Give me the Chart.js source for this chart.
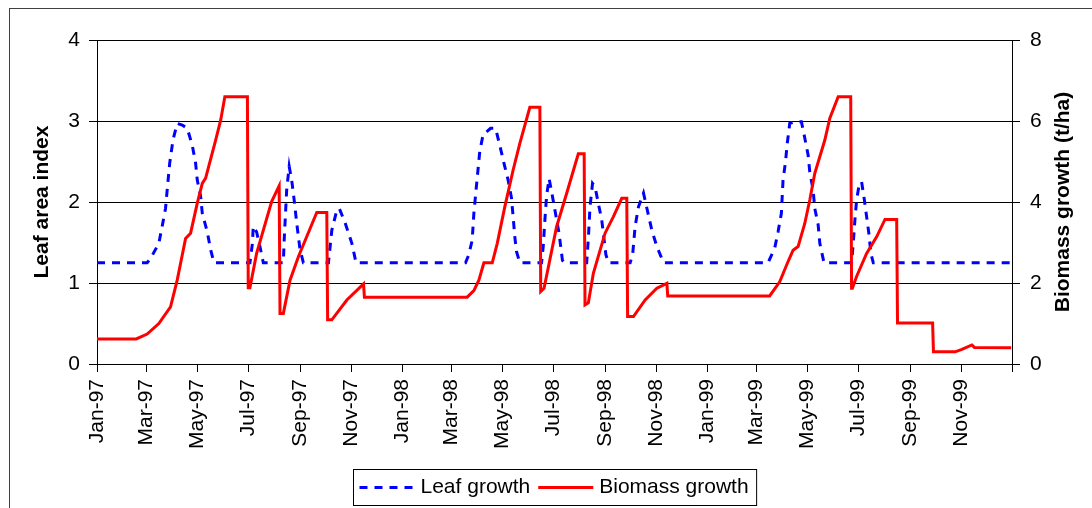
<!DOCTYPE html>
<html>
<head>
<meta charset="utf-8">
<script src="https://cdn.jsdelivr.net/npm/chart.js@4/dist/chart.umd.min.js"></script>
<style>
  html, body { margin: 0; padding: 0; background: #fff; }
  #wrap { width: 1092px; height: 508px; position: relative; }
</style>
</head>
<body>
<div id="wrap"><canvas id="chart"></canvas></div>
<script>
// x tick positions (month starts) and their labels
const tickDates = ['1997-01-01', '1997-03-01', '1997-05-01', '1997-07-01', '1997-09-01', '1997-11-01',
  '1998-01-01', '1998-03-01', '1998-05-01', '1998-07-01', '1998-09-01', '1998-11-01',
  '1999-01-01', '1999-03-01', '1999-05-01', '1999-07-01', '1999-09-01', '1999-11-01', '2000-01-01'];
const tickLabels = ['Jan-97', 'Mar-97', 'May-97', 'Jul-97', 'Sep-97', 'Nov-97',
  'Jan-98', 'Mar-98', 'May-98', 'Jul-98', 'Sep-98', 'Nov-98',
  'Jan-99', 'Mar-99', 'May-99', 'Jul-99', 'Sep-99', 'Nov-99', ''];

// Leaf area index (left axis)
const leafDates = ['1997-01-01', '1997-03-02', '1997-03-06', '1997-03-16', '1997-03-20', '1997-03-24', '1997-03-26',
  '1997-03-29', '1997-04-02', '1997-04-07', '1997-04-13', '1997-04-19', '1997-04-25', '1997-04-29', '1997-05-01',
  '1997-05-05', '1997-05-07', '1997-05-13', '1997-05-17', '1997-05-21',
  '1997-07-03', '1997-07-06', '1997-07-07', '1997-07-11', '1997-07-15', '1997-07-19',
  '1997-08-12', '1997-08-13', '1997-08-16', '1997-08-19', '1997-08-22', '1997-08-25', '1997-08-28', '1997-09-01', '1997-09-05',
  '1997-10-05', '1997-10-09', '1997-10-15', '1997-10-18', '1997-10-25', '1997-11-02', '1997-11-07',
  '1998-03-18', '1998-03-22', '1998-03-26', '1998-03-28', '1998-03-31', '1998-04-04', '1998-04-08', '1998-04-17',
  '1998-04-23', '1998-04-28', '1998-05-03', '1998-05-08', '1998-05-12', '1998-05-14', '1998-05-16', '1998-05-18', '1998-05-22',
  '1998-06-17', '1998-06-19', '1998-06-21', '1998-06-23', '1998-06-26', '1998-06-29', '1998-07-03', '1998-07-08', '1998-07-12', '1998-07-15',
  '1998-08-10', '1998-08-12', '1998-08-14', '1998-08-17', '1998-08-20', '1998-08-24', '1998-08-28', '1998-09-02', '1998-09-05',
  '1998-10-01', '1998-10-04', '1998-10-07', '1998-10-11', '1998-10-17', '1998-10-22', '1998-10-27', '1998-11-02', '1998-11-10',
  '1999-03-15', '1999-03-23', '1999-03-27', '1999-03-31', '1999-04-01', '1999-04-02', '1999-04-05', '1999-04-07', '1999-04-10',
  '1999-04-16', '1999-04-24', '1999-04-28', '1999-05-02', '1999-05-04', '1999-05-08', '1999-05-10', '1999-05-14', '1999-05-16', '1999-05-21',
  '1999-06-23', '1999-06-25', '1999-06-27', '1999-06-29', '1999-07-02', '1999-07-05', '1999-07-08', '1999-07-11', '1999-07-14', '1999-07-16', '1999-07-19',
  '1999-12-31'];
const leafValues = [1.25, 1.25, 1.30, 1.49, 1.70, 1.92, 2.15,
  2.48, 2.77, 2.97, 2.95, 2.91, 2.70, 2.48, 2.27,
  2.07, 1.86, 1.63, 1.41, 1.25,
  1.25, 1.49, 1.70, 1.63, 1.45, 1.25,
  1.25, 1.53, 2.15, 2.44, 2.27, 2.02, 1.74, 1.41, 1.25,
  1.25, 1.65, 1.90, 1.92, 1.74, 1.49, 1.25,
  1.25, 1.35, 1.53, 1.86, 2.19, 2.62, 2.83, 2.91,
  2.91, 2.70, 2.48, 2.27, 2.05, 1.82, 1.57, 1.39, 1.25,
  1.25, 1.45, 1.78, 2.07, 2.29, 2.13, 1.90, 1.61, 1.28, 1.25,
  1.25, 1.55, 1.94, 2.23, 2.19, 1.98, 1.78, 1.35, 1.25,
  1.25, 1.35, 1.70, 1.94, 2.11, 1.88, 1.65, 1.45, 1.25,
  1.25, 1.43, 1.63, 1.86, 2.07, 2.27, 2.50, 2.72, 2.97,
  2.99, 2.99, 2.79, 2.58, 2.37, 2.15, 1.92, 1.72, 1.49, 1.25,
  1.25, 1.49, 1.78, 2.02, 2.21, 2.25, 2.05, 1.82, 1.59, 1.37, 1.25,
  1.25];

// Biomass growth, t/ha (right axis)
const biomassDates = ['1997-01-01', '1997-02-17', '1997-03-02', '1997-03-16', '1997-03-30', '1997-04-07', '1997-04-17',
  '1997-04-23', '1997-05-01', '1997-05-07', '1997-05-11', '1997-05-23', '1997-05-29', '1997-06-03', '1997-06-30',
  '1997-07-01', '1997-07-03', '1997-07-11', '1997-07-29', '1997-08-07',
  '1997-08-08', '1997-08-12', '1997-08-20', '1997-08-30', '1997-09-21', '1997-10-03',
  '1997-10-04', '1997-10-09', '1997-10-27', '1997-11-16', '1997-11-17',
  '1998-03-20', '1998-03-28', '1998-04-03', '1998-04-09', '1998-04-19', '1998-04-25', '1998-05-04', '1998-05-14',
  '1998-05-22', '1998-06-03', '1998-06-15',
  '1998-06-16', '1998-06-20', '1998-07-05', '1998-07-17', '1998-07-31', '1998-08-07',
  '1998-08-08', '1998-08-12', '1998-08-18', '1998-09-01', '1998-09-11', '1998-09-21', '1998-09-27',
  '1998-09-28', '1998-10-05', '1998-10-19', '1998-11-02', '1998-11-14', '1998-11-15',
  '1999-03-17', '1999-03-29', '1999-04-08', '1999-04-14', '1999-04-20', '1999-04-28', '1999-05-04', '1999-05-10',
  '1999-05-22', '1999-05-28', '1999-06-07', '1999-06-22',
  '1999-06-23', '1999-06-24', '1999-06-29', '1999-07-11', '1999-07-23', '1999-08-02', '1999-08-16',
  '1999-08-17', '1999-09-28', '1999-09-29', '1999-10-25', '1999-11-02', '1999-11-14', '1999-11-17', '1999-12-31'];
const biomassValues = [0.62, 0.62, 0.74, 1.00, 1.41, 2.07, 3.10,
  3.23, 3.97, 4.46, 4.59, 5.53, 6.02, 6.60, 6.60,
  1.88, 1.88, 2.73, 4.01, 4.40,
  1.25, 1.25, 2.07, 2.65, 3.74, 3.74,
  1.09, 1.09, 1.58, 1.98, 1.65,
  1.65, 1.81, 2.07, 2.50, 2.50, 2.98, 3.88, 4.79,
  5.45, 6.34, 6.34,
  1.79, 1.87, 3.39, 4.21, 5.19, 5.19,
  1.46, 1.51, 2.24, 3.23, 3.64, 4.09, 4.09,
  1.17, 1.17, 1.58, 1.87, 1.99, 1.68,
  1.68, 2.03, 2.53, 2.81, 2.90, 3.47, 4.05, 4.71,
  5.53, 6.07, 6.60, 6.60,
  1.87, 1.87, 2.16, 2.73, 3.14, 3.57, 3.57,
  1.01, 1.01, 0.30, 0.30, 0.36, 0.47, 0.41, 0.40];

const FONT = '"Liberation Sans", Arial, sans-serif';
const origin = Date.parse('1997-01-01');
const dayOf = d => (Date.parse(d) - origin) / 86400000;
const toPoints = (dates, values) => dates.map((d, i) => ({ x: dayOf(d), y: values[i] }));

const decor = {
  id: 'decor',
  beforeDraw(chart) {
    const ctx = chart.ctx;
    ctx.save();
    ctx.strokeStyle = '#404040';
    ctx.lineWidth = 1;
    ctx.strokeRect(9.5, 8.5, chart.width + 20, chart.height + 20);
    ctx.restore();
  },
  afterDraw(chart) {
    const { ctx, chartArea } = chart;
    ctx.save();
    // right axis title, reading upward
    ctx.font = 'bold 21px ' + FONT;
    ctx.fillStyle = '#000';
    ctx.textAlign = 'center';
    ctx.textBaseline = 'middle';
    ctx.translate(chart.width - 29, (chartArea.top + chartArea.bottom) / 2);
    ctx.rotate(-Math.PI / 2);
    ctx.fillText('Biomass growth (t/ha)', 0, 0);
    ctx.restore();

    // boxed legend
    ctx.save();
    ctx.font = '21px ' + FONT;
    const sets = chart.data.datasets;
    const w1 = ctx.measureText(sets[0].label).width;
    const w2 = ctx.measureText(sets[1].label).width;
    const total = 6 + 54 + 7 + w1 + 8 + 55 + 6 + w2 + 8;
    const left = Math.round((chartArea.left + chartArea.right) / 2 - total / 2) + 0.5;
    const top = 469.5, h = 36, mid = top + h / 2;
    ctx.strokeStyle = '#000';
    ctx.lineWidth = 1;
    ctx.strokeRect(left, top, total, h);
    let x = left + 6;
    ctx.lineWidth = 3;
    ctx.strokeStyle = sets[0].borderColor;
    ctx.setLineDash(sets[0].borderDash);
    ctx.beginPath(); ctx.moveTo(x, mid); ctx.lineTo(x + 54, mid); ctx.stroke();
    x += 54 + 7;
    ctx.setLineDash([]);
    ctx.fillStyle = '#000';
    ctx.textBaseline = 'middle';
    ctx.fillText(sets[0].label, x, mid);
    x += w1 + 8;
    ctx.strokeStyle = sets[1].borderColor;
    ctx.beginPath(); ctx.moveTo(x, mid); ctx.lineTo(x + 55, mid); ctx.stroke();
    x += 55 + 6;
    ctx.fillText(sets[1].label, x, mid);
    ctx.restore();
  }
};

new Chart(document.getElementById('chart'), {
  type: 'line',
  data: {
    datasets: [
      {
        label: 'Leaf growth',
        data: toPoints(leafDates, leafValues),
        yAxisID: 'y',
        borderColor: '#0000ff',
        borderWidth: 3,
        borderDash: [8, 7],
        pointRadius: 0,
        tension: 0,
        order: 2
      },
      {
        label: 'Biomass growth',
        data: toPoints(biomassDates, biomassValues),
        yAxisID: 'y2',
        borderColor: '#ff0000',
        borderWidth: 3,
        pointRadius: 0,
        tension: 0,
        order: 1
      }
    ]
  },
  options: {
    responsive: true,
    maintainAspectRatio: false,
    animation: false,
    layout: { padding: { top: 40, left: 0, right: 0, bottom: 0 } },
    plugins: {
      legend: { display: false },
      tooltip: { enabled: false }
    },
    scales: {
      x: {
        type: 'linear',
        min: dayOf('1997-01-01'),
        max: dayOf('2000-01-01'),
        afterBuildTicks: scale => {
          scale.ticks = tickDates.map(d => ({ value: dayOf(d) }));
        },
        afterFit: scale => { scale.height = 144; },
        ticks: {
          autoSkip: false,
          minRotation: 90,
          maxRotation: 90,
          padding: 7,
          color: '#000',
          font: { family: FONT, size: 21 },
          callback: (value, index) => tickLabels[index]
        },
        grid: { drawOnChartArea: false, color: '#000', tickLength: 8 },
        border: { color: '#000', width: 1 }
      },
      y: {
        position: 'left',
        min: 0,
        max: 4,
        afterFit: scale => { scale.width = 97; },
        ticks: {
          stepSize: 1,
          padding: 9,
          color: '#000',
          font: { family: FONT, size: 21 }
        },
        grid: { color: '#000', lineWidth: 1, tickLength: 8 },
        border: { color: '#000', width: 1 },
        title: {
          display: true,
          text: 'Leaf area index',
          color: '#000',
          font: { family: FONT, size: 21, weight: 'bold' },
          padding: { top: 30, bottom: 0 }
        }
      },
      y2: {
        position: 'right',
        min: 0,
        max: 8,
        afterFit: scale => { scale.width = 80; },
        ticks: {
          stepSize: 2,
          padding: 10,
          color: '#000',
          font: { family: FONT, size: 21 }
        },
        grid: { drawOnChartArea: false, color: '#000', tickLength: 8 },
        border: { color: '#000', width: 1 }
      }
    }
  },
  plugins: [decor]
});
</script>
</body>
</html>
